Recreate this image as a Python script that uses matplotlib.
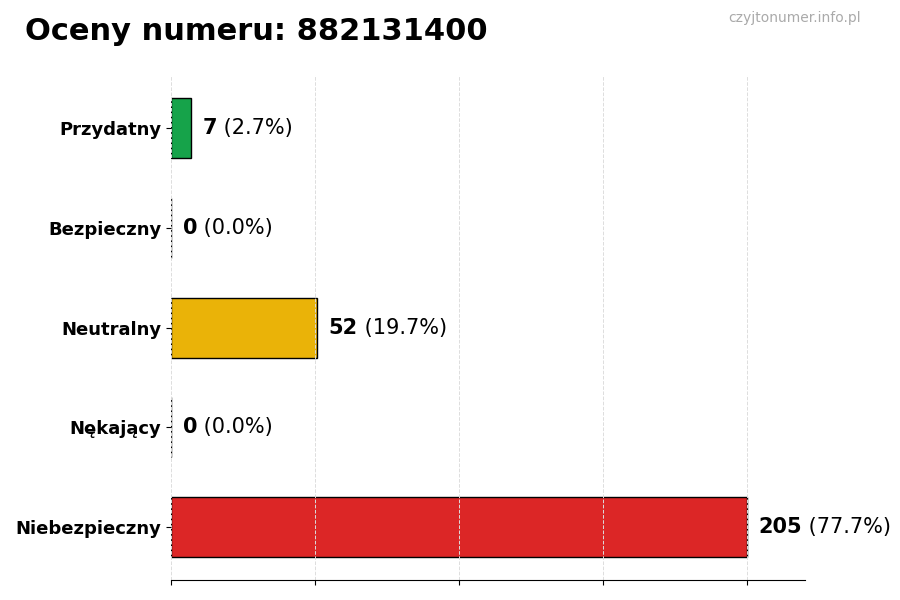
import matplotlib.pyplot as plt
import numpy as np

# Dane z wykresu
kategorie = ["Przydatny", "Bezpieczny", "Neutralny", "Nękający", "Niebezpieczny"]
liczby = [7, 0, 52, 0, 205]
procenty = [2.7, 0.0, 19.7, 0.0, 77.7]
kolory = ["#16a34a", "#16a34a", "#eab308", "#dc2626", "#dc2626"]
numer = "882131400"

fig = plt.figure(figsize=(9, 6), dpi=100)
ax = fig.add_axes([0.19, 0.033, 0.704, 0.842])

pozycje = np.arange(len(kategorie))
ax.barh(pozycje, liczby, height=0.6, color=kolory, edgecolor="black", linewidth=1)
ax.invert_yaxis()

maks = max(liczby)
ax.set_xlim(0, maks * 1.1)
ax.set_xticks(np.linspace(0, maks, 5))
ax.set_xticklabels([])
ax.set_yticks(pozycje)
ax.set_yticklabels(kategorie, fontsize=13, fontweight="bold")

ax.grid(axis="x", linestyle="--", color="#dddddd", linewidth=0.7)
for s in ["top", "right", "left"]:
    ax.spines[s].set_visible(False)

# Etykiety wartości: liczba pogrubiona + procent
for y, n, p in zip(pozycje, liczby, procenty):
    t = ax.text(n + maks * 0.02, y, str(n), fontsize=15, fontweight="bold",
                va="center", ha="left")
    ax.annotate(f" ({p:.1f}%)", xy=(1, 0.5), xycoords=t, fontsize=15,
                va="center", ha="left")

fig.text(0.028, 0.948, f"Oceny numeru: {numer}", fontsize=22, fontweight="bold",
         ha="left", va="center")
fig.text(0.957, 0.97, "czyjtonumer.info.pl", fontsize=10, color="#aaaaaa",
         ha="right", va="center")

fig.savefig("out.png", dpi=100)
